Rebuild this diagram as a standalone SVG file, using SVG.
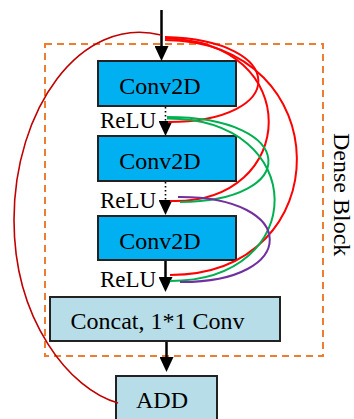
<svg xmlns="http://www.w3.org/2000/svg" width="354" height="419" viewBox="0 0 354 419">
  <style>
    .conv { fill: #00B0F0; stroke: #222; stroke-width: 2; }
    .light { fill: #B7DEE8; stroke: #222; stroke-width: 2; }
    .label { font-family: "Liberation Serif", "Times New Roman", serif; fill: #000; }
    .big { font-size: 24px; }
    .small { font-size: 23px; }
    .flow { stroke: #000; stroke-width: 2.5; fill: none; }
    .dotted { stroke: #000; stroke-width: 1.6; fill: none; stroke-dasharray: 1.6 2.4; }
    .skip { fill: none; stroke-width: 2; }
    .red { stroke: #FF0000; }
    .darkred { stroke: #C00000; stroke-width: 1.6; }
    .green { stroke: #00B050; }
    .purple { stroke: #7030A0; }
    .block { fill: none; stroke: #ED7D31; stroke-width: 2; stroke-dasharray: 7 5; }
  </style>
  <defs>
    <marker id="head" viewBox="0 0 15 14" markerWidth="15" markerHeight="14" refX="7" refY="7" orient="auto" markerUnits="userSpaceOnUse">
      <path d="M0,0 L15,7 L0,14 z" fill="#000"/>
    </marker>
  </defs>

  <rect fill="#fff" x="0" y="0" width="354" height="419"/>

  <!-- dense block frame -->
  <g id="dense-block">
    <rect class="block" x="45" y="44" width="278" height="312"/>
    <text class="label big" transform="translate(334,133) rotate(90)">Dense Block</text>
  </g>

  <g id="conv1">
    <rect class="conv" x="98" y="61" width="138" height="45"/>
    <text class="label big" x="160" y="94" text-anchor="middle">Conv2D</text>
  </g>
  <g id="relu1">
    <text class="label small" x="100" y="128">ReLU</text>
  </g>
  <g id="conv2">
    <rect class="conv" x="98" y="136" width="138" height="45"/>
    <text class="label big" x="160" y="169" text-anchor="middle">Conv2D</text>
  </g>
  <g id="relu2">
    <text class="label small" x="100" y="208">ReLU</text>
  </g>
  <g id="conv3">
    <rect class="conv" x="98" y="216" width="138" height="44"/>
    <text class="label big" x="160" y="249" text-anchor="middle">Conv2D</text>
  </g>
  <g id="relu3">
    <text class="label small" x="100" y="287">ReLU</text>
  </g>
  <g id="concat">
    <rect class="light" x="50" y="297" width="230" height="44"/>
    <text class="label big" x="157.5" y="329" text-anchor="middle">Concat, 1*1 Conv</text>
  </g>
  <g id="add">
    <rect class="light" x="116" y="376" width="101" height="60"/>
    <text class="label big" x="162" y="408" text-anchor="middle">ADD</text>
  </g>

  <g id="connectors">
    <!-- main path -->
    <line class="flow" x1="161.5" y1="10" x2="161.5" y2="53" marker-end="url(#head)"/>
    <line class="dotted" x1="165.5" y1="107" x2="165.5" y2="128" marker-end="url(#head)"/>
    <line class="dotted" x1="165.5" y1="182" x2="165.5" y2="207" marker-end="url(#head)"/>
    <line class="flow" x1="165.5" y1="261" x2="165.5" y2="284" marker-end="url(#head)"/>
    <line class="flow" x1="166.5" y1="342" x2="166.5" y2="364" marker-end="url(#head)"/>

    <!-- dense skip links from the block input -->
    <path class="skip red" d="M165,37 C289,40 289,122 168,122"/>
    <path class="skip red" d="M165,38.5 C305,40 300,205 170,201"/>
    <path class="skip red" d="M165,40 C340,42 340,275 170,275"/>

    <!-- skip links from the first ReLU -->
    <path class="skip green" d="M167,117 C300,117 300,202 180,202"/>
    <path class="skip green" d="M167,118.5 C310,118 310,281 170,281"/>

    <!-- skip link from the second ReLU -->
    <path class="skip purple" d="M178,197 C300,196 300,283 180,282"/>

    <!-- residual link around the block -->
    <path class="skip darkred" d="M161,35 C80,15 14,110 14,220 C14,320 70,390 118,403"/>
  </g>
</svg>
